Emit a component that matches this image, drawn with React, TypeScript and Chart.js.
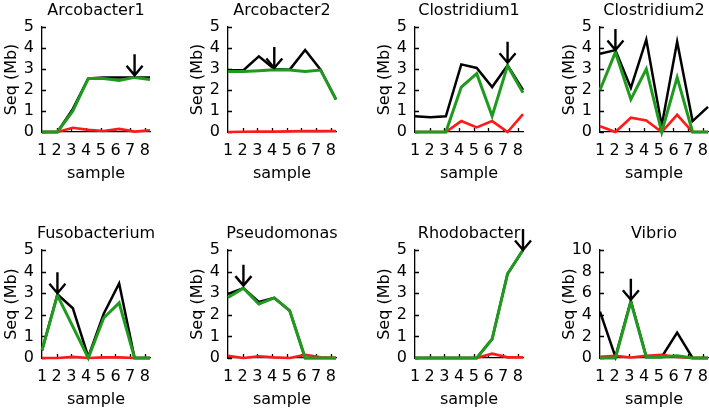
import React, { useEffect, useRef } from "react";
import { Chart, registerables } from "chart.js";

Chart.register(...registerables);

// ---------- data ----------
const samples = [1, 2, 3, 4, 5, 6, 7, 8];
const panelTitles = [
  "Arcobacter1",
  "Arcobacter2",
  "Clostridium1",
  "Clostridium2",
  "Fusobacterium",
  "Pseudomonas",
  "Rhodobacter",
  "Vibrio",
];
const yAxisMax = [5, 5, 5, 5, 5, 5, 5, 10];
const yAxisStep = [1, 1, 1, 1, 1, 1, 1, 2];

// black series
const arcobacter1Black = [0, 0, 1.1, 2.55, 2.6, 2.6, 2.6, 2.6];
const arcobacter2Black = [2.94, 2.94, 3.6, 3.0, 2.97, 3.9, 2.97, 1.55];
const clostridium1Black = [0.75, 0.7, 0.75, 3.22, 3.05, 2.14, 3.18, 2.0];
const clostridium2Black = [3.73, 3.9, 2.1, 4.4, 0.3, 4.3, 0.52, 1.2];
const fusobacteriumBlack = [0.35, 2.95, 2.3, 0.05, 2.05, 3.45, 0, 0];
const pseudomonasBlack = [2.97, 3.23, 2.6, 2.78, 2.19, 0, 0, 0];
const rhodobacterBlack = [0, 0, 0, 0, 0, 0.88, 3.9, 5.0];
const vibrioBlack = [4.3, 0.1, 5.3, 0.1, 0.1, 2.35, 0, 0];

// green series
const arcobacter1Green = [0, 0, 1.0, 2.55, 2.55, 2.45, 2.6, 2.5];
const arcobacter2Green = [2.88, 2.88, 2.92, 2.97, 2.95, 2.88, 2.95, 1.55];
const clostridium1Green = [0, 0, 0, 2.14, 2.78, 0.76, 3.16, 1.87];
const clostridium2Green = [2.0, 3.8, 1.55, 3.0, 0, 2.6, 0, 0];
const fusobacteriumGreen = [0.35, 2.9, 1.45, 0, 1.85, 2.55, 0, 0];
const pseudomonasGreen = [2.8, 3.23, 2.5, 2.78, 2.19, 0, 0, 0];
const rhodobacterGreen = [0, 0, 0, 0, 0, 0.88, 3.9, 5.0];
const vibrioGreen = [0, 0, 5.2, 0.1, 0.1, 0.2, 0, 0];

// red series
const arcobacter1Red = [0, 0, 0.2, 0.1, 0.05, 0.15, 0.02, 0.08];
const arcobacter2Red = [0, 0.01, 0.02, 0.02, 0.03, 0.05, 0.04, 0.05];
const clostridium1Red = [0, 0, 0, 0.52, 0.22, 0.52, 0, 0.85];
const clostridium2Red = [0.27, 0, 0.68, 0.55, 0, 0.82, 0, 0];
const fusobacteriumRed = [0, 0, 0.05, 0, 0.03, 0.03, 0, 0];
const pseudomonasRed = [0.1, 0, 0.08, 0.03, 0, 0.15, 0.03, 0];
const rhodobacterRed = [0, 0, 0, 0, 0, 0.2, 0.03, 0.03];
const vibrioRed = [0.1, 0.2, 0.05, 0.2, 0.3, 0.1, 0, 0];

const blackSeries = [
  arcobacter1Black, arcobacter2Black, clostridium1Black, clostridium2Black,
  fusobacteriumBlack, pseudomonasBlack, rhodobacterBlack, vibrioBlack,
];
const greenSeries = [
  arcobacter1Green, arcobacter2Green, clostridium1Green, clostridium2Green,
  fusobacteriumGreen, pseudomonasGreen, rhodobacterGreen, vibrioGreen,
];
const redSeries = [
  arcobacter1Red, arcobacter2Red, clostridium1Red, clostridium2Red,
  fusobacteriumRed, pseudomonasRed, rhodobacterRed, vibrioRed,
];

// arrows: sample they point at and the value where the tip sits
const arrowSamples = [7, 4, 7, 2, 2, 2, 8, 3];
const arrowTips = [2.7, 3.05, 3.3, 3.9, 3.0, 3.35, 5.0, 5.4];

// ---------- styles ----------
const FONT = "'DejaVu Sans', sans-serif";
const BLACK = "#000000";
const GREEN = "#1f9a1f";
const RED = "#ff1a1a";

const colLefts = [0, 186, 373, 558];
const rowTops = [0, 223];
const rowPlotHeights = [105, 108];
const Y_AXIS_W = 42;
const X_AXIS_H = 58;
const TITLE_H = 27;
const PLOT_W = 108;
const RIGHT_PAD = 16;
// the sample labels in the original are drawn on a slightly compressed scale
const LABEL_AXIS_MAX = 8.35;

const panelTitlePlugin = {
  id: "panelTitle",
  afterDraw(chart: any, _args: any, opts: any) {
    if (!opts || !opts.text) return;
    const { ctx, chartArea } = chart;
    ctx.save();
    ctx.fillStyle = "#000";
    ctx.font = `normal 16px ${FONT}`;
    ctx.textAlign = "center";
    ctx.textBaseline = "middle";
    ctx.fillText(opts.text, (chartArea.left + chartArea.right) / 2, 11);
    ctx.restore();
  },
};

const innerTicksPlugin = {
  id: "innerTicks",
  beforeDatasetsDraw(chart: any) {
    const { ctx, scales } = chart;
    const xs = scales.xl;
    const ys = scales.y;
    ctx.save();
    ctx.strokeStyle = "#000";
    ctx.lineWidth = 1.3;
    ctx.beginPath();
    xs.ticks.forEach((t: any) => {
      if (t.value <= xs.min) return;
      const px = Math.round(xs.getPixelForValue(t.value)) + 0.5;
      ctx.moveTo(px, ys.bottom);
      ctx.lineTo(px, ys.bottom - 4);
    });
    ys.ticks.forEach((t: any) => {
      const py = Math.round(ys.getPixelForValue(t.value)) + 0.5;
      ctx.moveTo(xs.left, py);
      ctx.lineTo(xs.left + 4, py);
    });
    ctx.stroke();
    ctx.restore();
  },
};

const arrowPlugin = {
  id: "arrowMark",
  afterDatasetsDraw(chart: any, _args: any, opts: any) {
    if (!opts || opts.sample == null) return;
    const { ctx, scales } = chart;
    const x = scales.x.getPixelForValue(opts.sample);
    const y = scales.y.getPixelForValue(opts.tip);
    ctx.save();
    ctx.strokeStyle = "#000";
    ctx.lineWidth = 2.4;
    ctx.lineCap = "butt";
    ctx.lineJoin = "miter";
    ctx.beginPath();
    ctx.moveTo(x, y - 21);
    ctx.lineTo(x, y);
    ctx.moveTo(x - 8, y - 9.5);
    ctx.lineTo(x, y);
    ctx.lineTo(x + 8, y - 9.5);
    ctx.stroke();
    ctx.restore();
  },
};

function Panel({ index }: { index: number }) {
  const ref = useRef<HTMLCanvasElement | null>(null);
  const row = Math.floor(index / 4);
  const col = index % 4;
  const width = Y_AXIS_W + PLOT_W + RIGHT_PAD;
  const height = TITLE_H + rowPlotHeights[row] + X_AXIS_H;

  useEffect(() => {
    if (!ref.current) return;
    const font = { family: FONT, size: 16, weight: "normal" as const, lineHeight: 1.2 };
    const mk = (data: number[], color: string, w: number) => ({
      data: samples.map((s, i) => ({ x: s, y: data[i] })),
      borderColor: color,
      backgroundColor: color,
      borderWidth: w,
      pointRadius: 0,
      tension: 0,
      fill: false,
      clip: 6,
      xAxisID: "x",
      yAxisID: "y",
    });
    const chart = new Chart(ref.current, {
      type: "line",
      data: {
        datasets: [
          mk(greenSeries[index], GREEN, 3),
          mk(redSeries[index], RED, 2.6),
          mk(blackSeries[index], BLACK, 2.5),
        ],
      },
      options: {
        animation: false,
        responsive: false,
        maintainAspectRatio: false,
        devicePixelRatio: window.devicePixelRatio || 1,
        layout: { padding: { left: 0, right: RIGHT_PAD, top: TITLE_H, bottom: 0 } },
        plugins: {
          legend: { display: false },
          tooltip: { enabled: false },
          title: { display: false },
          panelTitle: { text: panelTitles[index] },
          arrowMark: { sample: arrowSamples[index], tip: arrowTips[index] },
        } as any,
        scales: {
          x: {
            type: "linear",
            position: "bottom",
            min: 1,
            max: 8,
            border: { display: true, color: "#000", width: 1.3 },
            grid: { display: false, drawTicks: false },
            ticks: { display: false },
            afterFit: (s: any) => {
              s.height = 0;
            },
          },
          xl: {
            type: "linear",
            position: "bottom",
            min: 1,
            max: LABEL_AXIS_MAX,
            border: { display: false },
            grid: { display: false, drawTicks: false },
            ticks: {
              stepSize: 1,
              color: "#000",
              font,
              padding: 9,
              maxRotation: 0,
              autoSkip: false,
              includeBounds: false,
            },
            afterBuildTicks: (s: any) => {
              s.ticks = samples.map((v) => ({ value: v }));
            },
            title: {
              display: true,
              text: "sample",
              color: "#000",
              font,
              padding: { top: 0, bottom: 7 },
            },
            afterFit: (s: any) => {
              s.height = X_AXIS_H;
            },
          },
          y: {
            type: "linear",
            min: 0,
            max: yAxisMax[index],
            border: { display: true, color: "#000", width: 1.3 },
            grid: { display: false, drawTicks: false },
            ticks: {
              stepSize: yAxisStep[index],
              color: "#000",
              font,
              padding: 8,
              autoSkip: false,
            },
            title: {
              display: true,
              text: "Seq (Mb)",
              color: "#000",
              font,
              padding: { top: 2, bottom: 0 },
            },
            afterFit: (s: any) => {
              s.width = Y_AXIS_W;
            },
          },
        },
      } as any,
      plugins: [panelTitlePlugin, innerTicksPlugin, arrowPlugin],
    });
    return () => chart.destroy();
  }, [index]);

  return (
    <div
      style={{
        position: "absolute",
        left: colLefts[col],
        top: rowTops[row],
        width,
        height,
      }}
    >
      <canvas ref={ref} width={width} height={height} style={{ width, height, display: "block" }} />
    </div>
  );
}

export default function App() {
  return (
    <div
      style={{
        position: "fixed",
        left: 0,
        top: 0,
        width: 709,
        height: 410,
        overflow: "hidden",
        background: "#fff",
      }}
    >
      {panelTitles.map((_, i) => (
        <Panel key={i} index={i} />
      ))}
    </div>
  );
}
